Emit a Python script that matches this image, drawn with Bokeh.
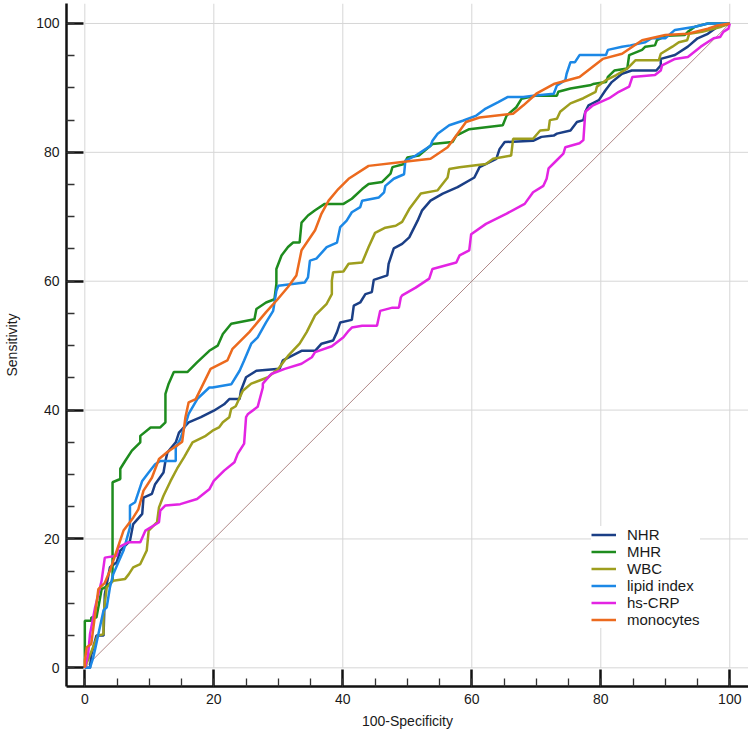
from bokeh.plotting import figure
from bokeh.models import Range1d, SingleIntervalTicker, Legend, LegendItem
from bokeh.embed import file_html
from bokeh.resources import INLINE

# ---- data ----
nhr_x = [0, 0.8, 1.0, 1.8, 2.9, 3.1, 3.9, 4.95, 5.5, 7, 7.5, 8.9, 9.1, 10.4, 10.9, 12.2, 12.5, 12.8, 14.1, 14.6, 16.1, 18, 20, 21.6, 22.4, 24, 24.2, 25, 26.6, 30.2, 30.7, 33.6, 35.7, 36.7, 38.5, 39.1, 39.6, 41.4, 41.7, 42.7, 43.5, 44.5, 44.8, 46.9, 47.1, 47.9, 49.2, 50.3, 51.6, 52.3, 53.6, 55.5, 57.8, 60.4, 61.2, 63.8, 64.3, 65.1, 69.5, 70.8, 72.7, 73.2, 75.3, 76.3, 77.3, 77.6, 78.1, 79.7, 80.7, 81.7, 83.3, 84.8, 88.6, 89.3, 89.3, 91.5, 93.5, 95, 96.6, 98.1, 100]
nhr_y = [0, 0, 2, 5, 5, 11.4, 15.6, 16.4, 18.2, 19.7, 22.3, 23.9, 26.4, 27, 28.5, 30.3, 32.1, 33.4, 35, 36.5, 38.1, 38.9, 39.9, 40.9, 41.7, 41.7, 43, 45.1, 46.1, 46.4, 47.7, 49.2, 49.2, 50.3, 50.8, 52.1, 53.6, 54.0, 56.2, 56.7, 58, 58.3, 60.2, 60.9, 62.7, 65.1, 65.8, 66.8, 69.4, 71, 72.5, 73.6, 74.6, 76.1, 77.7, 79, 80.5, 81.6, 81.8, 82.4, 82.6, 82.9, 83.4, 84.7, 85, 86.3, 87.3, 88.1, 89.6, 90.9, 92.2, 92.7, 92.7, 93.5, 94.5, 95.1, 96.4, 97.7, 98.4, 99.5, 100]

mhr_x = [0, 0, 1.0, 1.0, 1.8, 2.3, 2.6, 3.5, 4.3, 4.3, 5.5, 5.5, 6.25, 7.3, 8.6, 8.6, 10.2, 11.7, 12.5, 12.5, 13.0, 13.8, 15.9, 17.4, 19.3, 20.6, 21.4, 22.7, 26.3, 26.6, 28.1, 29.4, 29.7, 29.7, 30.5, 31.5, 32.3, 33.3, 33.6, 34.6, 35.7, 37.2, 40.1, 41.4, 43, 44, 46.1, 47.4, 47.7, 49.5, 50, 51.8, 53.9, 57, 57.6, 59.6, 64.8, 65.4, 66.9, 67.7, 70, 73.2, 73.4, 75.3, 78.3, 78.8, 80.8, 81.1, 82.1, 84.1, 84.4, 86.4, 86.9, 88.4, 88.7, 90.2, 93, 93.5, 94.6, 96.6, 100]
mhr_y = [0, 7.3, 7.3, 7.8, 7.8, 10.5, 12.2, 12.7, 13.5, 28.8, 29.3, 30.9, 32.1, 33.7, 35, 36, 37.3, 37.3, 38.1, 42.5, 44.1, 45.9, 45.9, 47.4, 49.2, 50.0, 51.8, 53.4, 54.1, 55.7, 56.7, 57.2, 59.6, 61.9, 64, 65.3, 66, 66, 69.1, 70.2, 71, 72, 72, 72.8, 74.3, 75.1, 75.4, 76.7, 77.7, 78.2, 79.2, 79.5, 81.3, 81.6, 82.6, 83.6, 84.2, 85.7, 87, 88.3, 88.8, 88.8, 89.4, 89.9, 90.4, 90.6, 90.9, 91.7, 92.7, 93, 95.1, 95.9, 96.4, 96.6, 97.4, 98.1, 98.2, 98.7, 99.5, 100, 100]

wbc_x = [0, 1.0, 2.0, 2.9, 2.9, 3.4, 4.4, 6.25, 6.8, 7.5, 8.6, 9.6, 9.9, 11.2, 11.5, 12.2, 13.3, 14.3, 15.4, 16.7, 18.75, 19.8, 20.8, 21.4, 22.4, 22.7, 23.4, 24.5, 25.8, 28.4, 30, 31.5, 33.3, 34.4, 35.7, 37.5, 38.3, 38.3, 38.5, 40.1, 40.9, 43, 44, 45, 46.6, 48.2, 49.2, 50.3, 52.1, 54.7, 56.25, 56.5, 58.1, 62.2, 63.3, 66.1, 66.4, 69.5, 70.6, 71.9, 72.1, 73.2, 73.7, 75.3, 77.3, 79.2, 79.4, 80.8, 82.4, 84.1, 85.4, 89, 89.3, 91.1, 92.1, 93.4, 93.7, 95.7, 98.7, 100]
wbc_y = [0, 2.5, 5.0, 5.2, 8.3, 12.5, 13.5, 13.8, 14.5, 15.6, 16.1, 18.2, 21.3, 22.6, 24.9, 26.7, 29, 30.9, 32.7, 35, 36, 36.8, 37.3, 38.1, 38.9, 40.2, 40.6, 43, 44.1, 45.1, 46.4, 48.4, 50.3, 52.1, 54.7, 56.5, 58, 60.1, 61.4, 61.5, 62.7, 62.9, 65.3, 67.5, 68.3, 68.6, 69.2, 71.2, 73.6, 74.1, 76.1, 77.4, 77.7, 78.2, 79, 79.5, 82.1, 82.1, 83.4, 83.5, 85, 85.2, 86.3, 87.6, 88.4, 89.4, 90.2, 91.2, 92, 93, 94.3, 94.3, 95.3, 96.4, 97.1, 97.4, 98.4, 98.7, 99.5, 100]

lip_x = [0, 0.8, 1.3, 1.6, 2.1, 2.9, 3.4, 3.9, 4.4, 5.2, 6.0, 7.0, 7.0, 7.8, 8.9, 9.9, 10.9, 11.7, 14.1, 14.1, 14.8, 15.6, 16.1, 17.5, 19.3, 19.8, 22.7, 24, 24.7, 25.8, 26.8, 28.1, 29.2, 29.7, 30.0, 34.1, 34.6, 34.9, 35.9, 37.5, 39.1, 39.6, 40.6, 41.4, 42.7, 43, 45.6, 46.4, 46.6, 47.9, 49.5, 49.7, 51.3, 53.6, 53.9, 54.7, 56.5, 58.6, 60.7, 62, 64.1, 65.6, 68, 69.5, 72.7, 73.2, 74.5, 74.7, 75.3, 76, 76.7, 80.8, 81.1, 83.3, 84.6, 86.9, 87.9, 90, 91.5, 94.6, 96.6, 100]
lip_y = [0, 0, 1.6, 2.9, 5.2, 8.9, 9.4, 12.5, 14.5, 16.4, 18.2, 21.8, 25.2, 25.7, 29, 30.3, 31.6, 32.1, 32.1, 34.2, 35.5, 37.8, 39.4, 41.8, 43.5, 43.5, 44.0, 46.1, 47.7, 50.3, 51.3, 53.6, 55.4, 58.5, 59.3, 59.8, 60.6, 63.2, 63.5, 65.3, 66, 68.4, 69.4, 70.7, 71.5, 72.5, 73, 73.8, 74.8, 75.9, 76.6, 78.7, 79.5, 81, 81.8, 82.9, 84.2, 84.9, 85.7, 86.7, 87.8, 88.6, 88.6, 88.8, 89.1, 90.4, 91.2, 92.2, 94, 94, 95.1, 95.1, 95.9, 96.4, 96.6, 97.1, 97.7, 97.7, 99, 99.5, 100, 100]

crp_x = [0, 0.5, 0.8, 1.6, 2.6, 3.1, 4.95, 5.2, 6.8, 8.6, 9.4, 11.5, 11.7, 12.5, 14.8, 17.4, 19.3, 20, 21.6, 23.2, 23.7, 24.7, 25, 25.3, 26.8, 27.6, 27.6, 28.9, 31, 33.6, 35.2, 35.7, 38.3, 38.8, 40.1, 40.9, 41.4, 43, 45.3, 45.8, 47.7, 48.7, 49, 49.2, 51.3, 53.4, 53.9, 57.6, 58.1, 59.6, 59.9, 62.2, 65.4, 68.2, 69.5, 71.1, 71.6, 71.9, 72.9, 74.2, 74.5, 76.7, 77.3, 77.6, 78.8, 81.3, 82.8, 84.4, 84.9, 88.4, 89.3, 89.5, 91.5, 93.5, 95.5, 97.5, 98.5, 99, 99.8, 100]
crp_y = [0, 2, 5.2, 9.4, 13.5, 17.1, 17.4, 18.7, 19.5, 19.5, 21.3, 22.6, 24.4, 25.2, 25.4, 26.2, 27.7, 29, 30.6, 31.9, 33.2, 34.8, 38.9, 39.4, 40.5, 43.5, 44.1, 45.6, 46.4, 47.2, 48.2, 49, 49.9, 50.3, 51.3, 52.3, 52.8, 53.1, 53.1, 55.4, 55.9, 55.9, 57.5, 57.8, 59, 60.4, 61.9, 62.9, 64, 64.8, 67.3, 68.9, 70.5, 72, 73.8, 74.8, 75.9, 77.5, 78.5, 79.8, 80.8, 81.4, 81.9, 86.3, 87.3, 88.4, 89.4, 90.2, 91.7, 92, 92.7, 93.5, 94.5, 94.8, 96.4, 97.7, 97.9, 98.7, 99.2, 100]

mono_x = [0, 0, 0.3, 1.0, 2.1, 3.1, 3.9, 4.95, 6.0, 7.5, 8.3, 9.1, 10.4, 11.5, 12.8, 14.3, 15.1, 15.6, 16.1, 17.2, 19.5, 22.1, 22.9, 25.5, 28.1, 29.9, 31.5, 32.8, 33.6, 35.7, 36.7, 37.8, 39.3, 40.9, 44, 49.2, 53.6, 56.25, 57.6, 59.1, 61.2, 66.4, 68, 70, 72.7, 76.7, 80.3, 83.3, 86.4, 90, 93.5, 96.6, 98.1, 100]
mono_y = [0, 1.1, 3.2, 3.7, 12.2, 13.2, 15.1, 18.2, 21.3, 23.3, 24.6, 27.5, 29.5, 32.4, 33.5, 34.5, 35.1, 38.9, 41.2, 41.7, 46.4, 47.7, 49.5, 52.1, 55.2, 57.2, 59.1, 60.9, 64.8, 67.9, 70.5, 72.5, 74.3, 75.9, 77.9, 78.5, 79, 80.8, 82.6, 84.7, 85.4, 86, 87.3, 89.1, 90.6, 91.7, 94.5, 95.3, 97.4, 98.2, 98.4, 99.2, 99.7, 100]

diag = [0, 100]
ticks = [0, 20, 40, 60, 80, 100]

series = [
    ("NHR", nhr_x, nhr_y, "#1b3f86"),
    ("MHR", mhr_x, mhr_y, "#1e8c1e"),
    ("WBC", wbc_x, wbc_y, "#9e9e1e"),
    ("lipid index", lip_x, lip_y, "#1c88e6"),
    ("hs-CRP", crp_x, crp_y, "#e324e3"),
    ("monocytes", mono_x, mono_y, "#ec6a1e"),
]

FONT = "Liberation Sans"
X0, X1 = -2.84, 102.9
Y0, Y1 = -2.9, 103.1

p = figure(width=748, height=735, output_backend="svg", toolbar_location=None,
           x_range=Range1d(X0, X1), y_range=Range1d(Y0, Y1),
           min_border_left=66, min_border_right=0, min_border_top=3, min_border_bottom=49)
p.outline_line_color = None
p.xgrid.visible = False
p.ygrid.visible = False
p.background_fill_color = "white"

# grid lines (bounded to the data region, as in the reference)
p.segment(x0=ticks, y0=[0] * len(ticks), x1=ticks, y1=[Y1] * len(ticks),
          line_color="#d6d6d6", line_width=1)
p.segment(x0=[0] * len(ticks), y0=ticks, x1=[X1] * len(ticks), y1=ticks,
          line_color="#d6d6d6", line_width=1)

# reference diagonal
p.line(diag, diag, line_color="#b08888", line_width=1)

items = []
for name, xs, ys, col in series:
    r = p.line(xs, ys, line_color=col, line_width=2.5)
    items.append(LegendItem(label=name, renderers=[r]))

for ax in (p.xaxis[0], p.yaxis[0]):
    ax.ticker = SingleIntervalTicker(interval=20, num_minor_ticks=4)
    ax.axis_line_width = 2.5
    ax.axis_line_color = "#111111"
    ax.major_tick_in = 17
    ax.major_tick_out = 0
    ax.major_tick_line_width = 2.5
    ax.major_tick_line_color = "#111111"
    ax.minor_tick_in = 8
    ax.minor_tick_out = 0
    ax.minor_tick_line_width = 1.3
    ax.minor_tick_line_color = "#333333"
    ax.major_label_text_font = FONT
    ax.major_label_text_font_size = "14px"
    ax.major_label_text_color = "#1a1a1a"
    ax.major_label_standoff = 7
    ax.axis_label_text_font = FONT
    ax.axis_label_text_font_size = "14px"
    ax.axis_label_text_font_style = "normal"
    ax.axis_label_text_color = "#1a1a1a"

p.xaxis.axis_label = "100-Specificity"
p.xaxis.axis_label_standoff = 6
p.yaxis.axis_label = "Sensitivity"
p.yaxis.axis_label_standoff = 13

legend = Legend(items=items, location=(525, 58))
legend.background_fill_color = "white"
legend.background_fill_alpha = 1.0
legend.border_line_color = None
legend.label_text_font = FONT
legend.label_text_font_size = "15px"
legend.label_text_color = "#1a1a1a"
legend.glyph_width = 25
legend.glyph_height = 17
legend.label_height = 17
legend.label_standoff = 11
legend.spacing = 0
legend.padding = 7
legend.margin = 0
p.add_layout(legend, "center")

open("out.html", "w").write(file_html(p, INLINE))
